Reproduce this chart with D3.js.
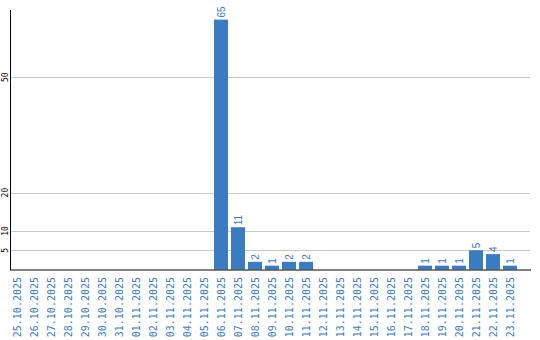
<html>
<head>
<meta charset="utf-8">
<script src="https://d3js.org/d3.v7.min.js"></script>
<style>
  body { margin: 0; background: #fff; }
</style>
</head>
<body>
<svg id="chart" width="540" height="340"></svg>
<script>
// data
let dates = ["25.10.2025","26.10.2025","27.10.2025","28.10.2025","29.10.2025","30.10.2025","31.10.2025",
  "01.11.2025","02.11.2025","03.11.2025","04.11.2025","05.11.2025","06.11.2025","07.11.2025","08.11.2025",
  "09.11.2025","10.11.2025","11.11.2025","12.11.2025","13.11.2025","14.11.2025","15.11.2025","16.11.2025",
  "17.11.2025","18.11.2025","19.11.2025","20.11.2025","21.11.2025","22.11.2025","23.11.2025"]
let counts = [0,0,0,0,0,0,0, 0,0,0,0,0,65,11,2, 1,2,2,0,0,0,0,0, 0,1,1,1,5,4,1]
let yTicks = [5, 10, 20, 50]

let svg = d3.select("#chart")
let blue = "#3b7bc1"

let x = d3.scaleBand()
    .domain(dates)
    .range([8.5, 518.5])
    .paddingInner(3 / 17)
    .paddingOuter(1.5 / 17)

let y = d3.scaleLinear()
    .domain([0, 67.5])
    .range([269.5, 10])

// gridlines
svg.append("g")
    .selectAll("line")
    .data(yTicks)
    .enter().append("line")
    .attr("x1", 11).attr("x2", 530)
    .attr("y1", d => Math.round(y(d)) + 0.5)
    .attr("y2", d => Math.round(y(d)) + 0.5)
    .attr("stroke", "#c8c8c8")

// y tick labels
svg.append("g")
    .selectAll("text")
    .data(yTicks)
    .enter().append("text")
    .attr("transform", d => `translate(7.5,${y(d)}) rotate(-90)`)
    .attr("text-anchor", "middle")
    .style("font", "8px 'DejaVu Sans Mono'")
    .attr("fill", "#000")
    .text(d => d)

// bars
svg.append("g")
    .selectAll("rect")
    .data(counts.map((v, i) => ({date: dates[i], v: v})).filter(d => d.v > 0))
    .enter().append("rect")
    .attr("x", d => x(d.date))
    .attr("width", x.bandwidth())
    .attr("y", d => y(d.v))
    .attr("height", d => y(0) - y(d.v))
    .attr("fill", blue)

// value labels
svg.append("g")
    .selectAll("text")
    .data(counts.map((v, i) => ({date: dates[i], v: v})).filter(d => d.v > 0))
    .enter().append("text")
    .attr("transform", d => `translate(${x(d.date) + x.bandwidth() / 2 + 3.5},${y(d.v) - 2}) rotate(-90)`)
    .style("font", "10px 'Liberation Sans'")
    .attr("fill", blue)
    .text(d => d.v)

// axes lines
svg.append("line")
    .attr("x1", 10.5).attr("x2", 10.5).attr("y1", 10).attr("y2", 270)
    .attr("stroke", "#000")
svg.append("line")
    .attr("x1", 10).attr("x2", 531).attr("y1", 270).attr("y2", 270)
    .attr("stroke", "#000")

// x labels
svg.append("g")
    .selectAll("text")
    .data(dates)
    .enter().append("text")
    .attr("transform", d => `translate(${x(d) + x.bandwidth() / 2 + 3.5},277) rotate(-90)`)
    .attr("text-anchor", "end")
    .style("font", "10px 'DejaVu Sans Mono'")
    .attr("fill", blue)
    .text(d => d)
</script>
</body>
</html>
